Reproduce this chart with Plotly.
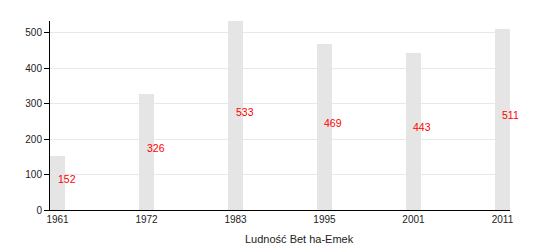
import plotly.graph_objects as go

years = ["1961", "1972", "1983", "1995", "2001", "2011"]
population = [152, 326, 533, 469, 443, 511]
y_ticks = [0, 100, 200, 300, 400, 500]
title_text = "Ludność Bet ha-Emek"

fig = go.Figure()
fig.add_trace(go.Bar(
    x=years, y=population, width=0.17,
    marker=dict(color="#e5e5e5", line=dict(width=0)),
    hoverinfo="skip", showlegend=False,
))

for i, v in enumerate(population):
    fig.add_annotation(
        x=i, y=v / 2, xref="x", yref="y", text=str(v),
        showarrow=False, xanchor="left", yanchor="middle", yshift=4, xshift=-2,
        font=dict(family="Liberation Sans, Arial, sans-serif", size=10.5, color="#ff0000"),
    )

fig.add_annotation(
    x=0.543, y=-0.153, xref="paper", yref="paper", text=title_text,
    showarrow=False, xanchor="center", yanchor="middle",
    font=dict(family="Liberation Sans, Arial, sans-serif", size=11, color="#222222"),
)

fig.update_layout(
    width=550, height=250,
    margin=dict(l=50, r=40, t=21, b=40),
    paper_bgcolor="white", plot_bgcolor="white",
    bargap=0,
    font=dict(family="Liberation Sans, Arial, sans-serif", size=10, color="#222222"),
)
fig.update_xaxes(
    type="category", range=[-0.085, 5.085],
    showline=True, linecolor="#000000", linewidth=1,
    showgrid=False, ticks="", tickfont=dict(size=10),
)
fig.update_yaxes(
    range=[0, 533], tickvals=y_ticks,
    showline=True, linecolor="#000000", linewidth=1,
    showgrid=True, gridcolor="#e8e8e8", gridwidth=1,
    ticks="outside", ticklen=5, tickcolor="#000000",
    zeroline=False, tickfont=dict(size=10),
)

fig.write_html("out.html")
